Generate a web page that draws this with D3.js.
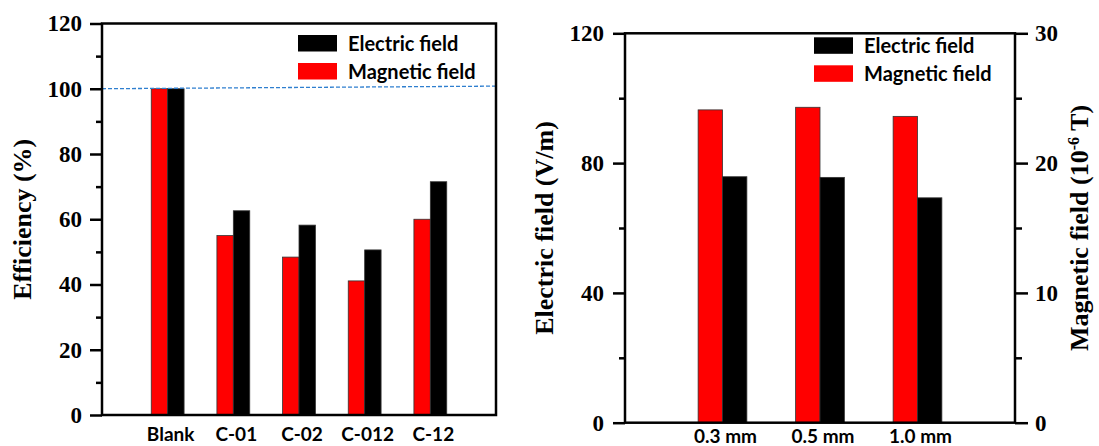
<!DOCTYPE html>
<html>
<head>
<meta charset="utf-8">
<script src="https://cdn.jsdelivr.net/npm/d3@7"></script>
<style>
  html, body { margin: 0; padding: 0; background: #fff; }
  svg { display: block; }
</style>
</head>
<body>
<div id="chart"></div>
<script>
// ---- data ----
const samples = ['Blank', 'C-01', 'C-02', 'C-012', 'C-12'];
const effMagnetic = [100, 55, 48.4, 41.1, 60];
const effElectric = [100, 62.6, 58.2, 50.6, 71.5];
const refLine = [100, 100.8]; // dashed reference, left end / right end

const thickness = ['0.3 mm', '0.5 mm', '1.0 mm'];
const fieldElectric = [75.8, 75.6, 69.3];   // V/m
const fieldMagnetic = [24.1, 24.3, 23.6];   // 10^-6 T

const effTicks = [0, 20, 40, 60, 80, 100, 120];
const effMinor = [10, 30, 50, 70, 90, 110];
const eTicks = [0, 40, 80, 120];
const eMinor = [20, 60, 100];
const bTicks = [0, 10, 20, 30];
const bMinor = [5, 15, 25];

const legendItems = ['Electric field', 'Magnetic field'];

// ---- style ----
const W = 1099, H = 446;
const RED = '#ff0000', BLACK = '#000000';
const serif = '"Liberation Serif", "Times New Roman", serif';
const sans = 'Lato, "Open Sans", sans-serif';
const axisW = 2.5;

const svg = d3.select('#chart').append('svg')
  .attr('width', W).attr('height', H)
  .attr('viewBox', [0, 0, W, H]);

function styleAxis(g, fontSize) {
  g.select('.domain').remove();
  g.selectAll('.tick line').attr('stroke', '#000').attr('stroke-width', axisW);
  g.selectAll('.tick text')
    .attr('fill', '#000')
    .style('font-family', serif)
    .style('font-weight', 'bold')
    .style('font-size', fontSize + 'px');
}

function drawBars(g, cats, x, red, black, bw) {
  g.selectAll('rect.red').data(cats).join('rect')
    .attr('class', 'red')
    .attr('x', (d, i) => x(i + 1 - bw))
    .attr('width', (d, i) => x(i + 1) - x(i + 1 - bw))
    .attr('y', (d, i) => red.y(red.v[i]))
    .attr('height', (d, i) => red.y(0) - red.y(red.v[i]))
    .attr('fill', RED).attr('stroke', '#333').attr('stroke-width', 0.8);
  g.selectAll('rect.black').data(cats).join('rect')
    .attr('class', 'black')
    .attr('x', (d, i) => x(i + 1))
    .attr('width', (d, i) => x(i + 1 + bw) - x(i + 1))
    .attr('y', (d, i) => black.y(black.v[i]))
    .attr('height', (d, i) => black.y(0) - black.y(black.v[i]))
    .attr('fill', BLACK).attr('stroke', '#333').attr('stroke-width', 0.8);
}

function drawCatLabels(g, cats, x, yPos) {
  g.selectAll('text.cat').data(cats).join('text')
    .attr('class', 'cat')
    .attr('x', (d, i) => x(i + 1) + 3)
    .attr('y', yPos)
    .attr('text-anchor', 'middle')
    .style('font-family', sans)
    .style('font-weight', 'bold')
    .style('font-size', '19px')
    .text(d => d);
}

function drawLegend(g, x0, yTop) {
  const colors = [BLACK, RED];
  const item = g.selectAll('g.leg').data(legendItems).join('g')
    .attr('class', 'leg')
    .attr('transform', (d, i) => `translate(${x0}, ${yTop + i * 28})`);
  item.append('rect')
    .attr('width', 39).attr('height', 16.5)
    .attr('fill', (d, i) => colors[i]);
  item.append('text')
    .attr('x', 50).attr('y', 15.5)
    .style('font-family', sans)
    .style('font-weight', 'bold')
    .style('font-size', '20px')
    .text(d => d);
}

// ================= left chart =================
{
  const x = d3.scaleLinear().domain([0, 6]).range([102, 496]);
  const y = d3.scaleLinear().domain([0, 120]).range([415, 23.5]);
  const g = svg.append('g');

  drawBars(g, samples, x, { y, v: effMagnetic }, { y, v: effElectric }, 0.25);

  // dashed 100% reference
  g.append('line')
    .attr('x1', x(0)).attr('x2', x(6))
    .attr('y1', y(refLine[0])).attr('y2', y(refLine[1]))
    .attr('stroke', '#2f7fcf').attr('stroke-width', 1.3)
    .attr('stroke-dasharray', '4,2');

  g.append('g')
    .attr('transform', `translate(${x(0)},0)`)
    .call(d3.axisLeft(y).tickValues(effTicks).tickSize(12).tickPadding(8).tickFormat(d3.format('d')))
    .call(a => styleAxis(a, 23));
  g.append('g')
    .attr('transform', `translate(${x(0)},0)`)
    .call(d3.axisLeft(y).tickValues(effMinor).tickSize(6).tickFormat(''))
    .call(a => styleAxis(a, 23));

  g.append('rect')
    .attr('x', x(0)).attr('y', y(120))
    .attr('width', x(6) - x(0)).attr('height', y(0) - y(120))
    .attr('fill', 'none').attr('stroke', '#000').attr('stroke-width', axisW);

  drawCatLabels(g, samples, x, 441);
  drawLegend(g, 298, 35);

  g.append('text')
    .attr('transform', `translate(31, ${(y(0) + y(120)) / 2}) rotate(-90)`)
    .attr('text-anchor', 'middle')
    .style('font-family', serif)
    .style('font-weight', 'bold')
    .style('font-size', '26px')
    .text('Efficiency (%)');
}

// ================= right chart =================
{
  const x = d3.scaleLinear().domain([0, 4]).range([625, 1015]);
  const yE = d3.scaleLinear().domain([0, 120]).range([422.7, 33.3]);
  const yB = d3.scaleLinear().domain([0, 30]).range([422.7, 33.3]);
  const g = svg.append('g');

  drawBars(g, thickness, x, { y: yB, v: fieldMagnetic }, { y: yE, v: fieldElectric }, 0.25);

  g.append('g')
    .attr('transform', `translate(${x(0)},0)`)
    .call(d3.axisLeft(yE).tickValues(eTicks).tickSize(12).tickPadding(9).tickFormat(d3.format('d')))
    .call(a => styleAxis(a, 23));
  g.append('g')
    .attr('transform', `translate(${x(0)},0)`)
    .call(d3.axisLeft(yE).tickValues(eMinor).tickSize(6).tickFormat(''))
    .call(a => styleAxis(a, 23));
  g.append('g')
    .attr('transform', `translate(${x(4)},0)`)
    .call(d3.axisRight(yB).tickValues(bTicks).tickSize(13).tickPadding(7).tickFormat(d3.format('d')))
    .call(a => styleAxis(a, 23));
  g.append('g')
    .attr('transform', `translate(${x(4)},0)`)
    .call(d3.axisRight(yB).tickValues(bMinor).tickSize(7).tickFormat(''))
    .call(a => styleAxis(a, 23));

  g.append('rect')
    .attr('x', x(0)).attr('y', yE(120))
    .attr('width', x(4) - x(0)).attr('height', yE(0) - yE(120))
    .attr('fill', 'none').attr('stroke', '#000').attr('stroke-width', axisW);

  drawCatLabels(g, thickness, x, 443);
  drawLegend(g, 814, 37.3);

  const midY = (yE(0) + yE(120)) / 2;
  g.append('text')
    .attr('transform', `translate(553, ${midY}) rotate(-90)`)
    .attr('text-anchor', 'middle')
    .style('font-family', serif)
    .style('font-weight', 'bold')
    .style('font-size', '26px')
    .text('Electric field (V/m)');

  const t = g.append('text')
    .attr('transform', `translate(1088, ${midY}) rotate(-90)`)
    .attr('text-anchor', 'middle')
    .style('font-family', serif)
    .style('font-weight', 'bold')
    .style('font-size', '26px');
  t.append('tspan').text('Magnetic field (10');
  t.append('tspan').attr('dy', -9).style('font-size', '16px').text('-6');
  t.append('tspan').attr('dy', 9).text(' T)');
}
</script>
</body>
</html>
